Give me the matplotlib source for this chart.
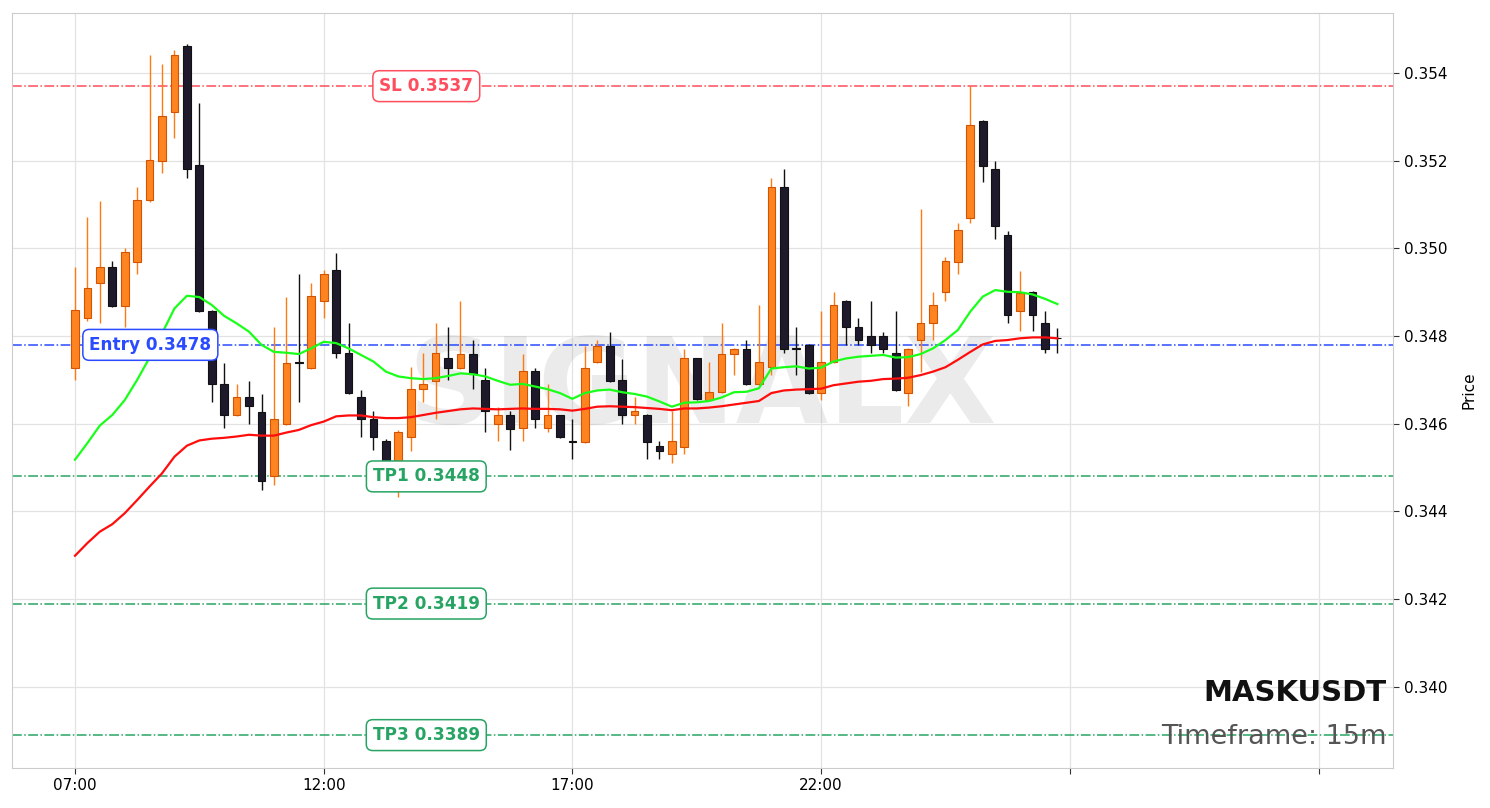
import numpy as np
import matplotlib as mpl
mpl.use('Agg')
import matplotlib.pyplot as plt
import matplotlib.transforms as mtrans

# 15m candles, 07:00 onwards
opens = [0.34728, 0.34841, 0.34921, 0.34958, 0.34869, 0.34970, 0.35110, 0.35200, 0.35311, 0.35462,
         0.35190, 0.34858, 0.34691, 0.34620, 0.34660, 0.34628, 0.34481, 0.34600, 0.34740, 0.34728,
         0.34879, 0.34951, 0.34761, 0.34661, 0.34611, 0.34561, 0.34510, 0.34570, 0.34679, 0.34698,
         0.34749, 0.34728, 0.34760, 0.34700, 0.34599, 0.34619, 0.34590, 0.34721, 0.34590, 0.34619,
         0.34560, 0.34559, 0.34740, 0.34778, 0.34700, 0.34619, 0.34620, 0.34550, 0.34531, 0.34548,
         0.34749, 0.34654, 0.34673, 0.34760, 0.34770, 0.34690, 0.34729, 0.35139, 0.34772, 0.34780,
         0.34670, 0.34740, 0.34880, 0.34820, 0.34800, 0.34800, 0.34762, 0.34670, 0.34791, 0.34829,
         0.34900, 0.34970, 0.35070, 0.35290, 0.35181, 0.35031, 0.34858, 0.34900, 0.34829, 0.34796]
highs = [0.34958, 0.35072, 0.35109, 0.34971, 0.35000, 0.35140, 0.35441, 0.35421, 0.35452, 0.35465,
         0.35332, 0.34860, 0.34739, 0.34691, 0.34698, 0.34668, 0.34821, 0.34890, 0.34942, 0.34921,
         0.34951, 0.34990, 0.34830, 0.34677, 0.34629, 0.34565, 0.34585, 0.34730, 0.34761, 0.34830,
         0.34821, 0.34879, 0.34790, 0.34728, 0.34639, 0.34629, 0.34760, 0.34728, 0.34690, 0.34621,
         0.34610, 0.34777, 0.34790, 0.34810, 0.34748, 0.34660, 0.34622, 0.34561, 0.34629, 0.34770,
         0.34750, 0.34740, 0.34829, 0.34772, 0.34790, 0.34871, 0.35160, 0.35180, 0.34821, 0.34782,
         0.34858, 0.34900, 0.34882, 0.34841, 0.34880, 0.34810, 0.34858, 0.34772, 0.35090, 0.34901,
         0.34980, 0.35058, 0.35370, 0.35292, 0.35200, 0.35040, 0.34949, 0.34902, 0.34858, 0.34818]
lows = [0.34700, 0.34835, 0.34830, 0.34866, 0.34821, 0.34942, 0.35105, 0.35172, 0.35252, 0.35161,
        0.34855, 0.34650, 0.34591, 0.34618, 0.34600, 0.34449, 0.34461, 0.34598, 0.34650, 0.34726,
        0.34841, 0.34750, 0.34668, 0.34571, 0.34540, 0.34449, 0.34432, 0.34539, 0.34650, 0.34611,
        0.34700, 0.34726, 0.34680, 0.34581, 0.34561, 0.34540, 0.34561, 0.34590, 0.34581, 0.34568,
        0.34520, 0.34557, 0.34738, 0.34696, 0.34600, 0.34600, 0.34520, 0.34520, 0.34510, 0.34531,
        0.34654, 0.34652, 0.34671, 0.34711, 0.34688, 0.34688, 0.34711, 0.34761, 0.34711, 0.34668,
        0.34654, 0.34738, 0.34780, 0.34780, 0.34761, 0.34761, 0.34675, 0.34641, 0.34719, 0.34791,
        0.34880, 0.34941, 0.35058, 0.35151, 0.35021, 0.34829, 0.34812, 0.34812, 0.34761, 0.34761]
closes = [0.34860, 0.34910, 0.34958, 0.34869, 0.34992, 0.35110, 0.35202, 0.35302, 0.35441, 0.35180,
          0.34858, 0.34691, 0.34619, 0.34660, 0.34641, 0.34470, 0.34610, 0.34739, 0.34738, 0.34892,
          0.34942, 0.34761, 0.34670, 0.34611, 0.34569, 0.34510, 0.34582, 0.34679, 0.34691, 0.34761,
          0.34728, 0.34760, 0.34713, 0.34629, 0.34619, 0.34588, 0.34721, 0.34610, 0.34619, 0.34570,
          0.34559, 0.34728, 0.34778, 0.34698, 0.34619, 0.34629, 0.34559, 0.34539, 0.34560, 0.34749,
          0.34656, 0.34673, 0.34760, 0.34770, 0.34690, 0.34740, 0.35139, 0.34770, 0.34771, 0.34670,
          0.34742, 0.34871, 0.34820, 0.34790, 0.34780, 0.34770, 0.34677, 0.34770, 0.34829, 0.34870,
          0.34971, 0.35041, 0.35281, 0.35189, 0.35050, 0.34848, 0.34898, 0.34848, 0.34770, 0.34795]
ema_fast = [0.34518, 0.34556, 0.34596, 0.34620, 0.34654, 0.34700, 0.34751, 0.34806, 0.34863, 0.34892,
            0.34889, 0.34871, 0.34846, 0.34829, 0.34810, 0.34780, 0.34764, 0.34762, 0.34759, 0.34772,
            0.34787, 0.34784, 0.34772, 0.34757, 0.34742, 0.34719, 0.34708, 0.34704, 0.34702, 0.34704,
            0.34709, 0.34715, 0.34713, 0.34708, 0.34698, 0.34689, 0.34691, 0.34685, 0.34679, 0.34670,
            0.34657, 0.34670, 0.34676, 0.34678, 0.34672, 0.34668, 0.34662, 0.34651, 0.34639, 0.34648,
            0.34649, 0.34652, 0.34660, 0.34672, 0.34673, 0.34681, 0.34726, 0.34729, 0.34731, 0.34726,
            0.34728, 0.34742, 0.34749, 0.34753, 0.34755, 0.34757, 0.34751, 0.34752, 0.34759, 0.34772,
            0.34791, 0.34814, 0.34856, 0.34890, 0.34905, 0.34901, 0.34900, 0.34895, 0.34885, 0.34873]
ema_slow = [0.34299, 0.34328, 0.34354, 0.34371, 0.34396, 0.34426, 0.34457, 0.34487, 0.34525, 0.34550,
            0.34562, 0.34566, 0.34568, 0.34571, 0.34575, 0.34573, 0.34573, 0.34580, 0.34586, 0.34597,
            0.34605, 0.34617, 0.34619, 0.34619, 0.34615, 0.34613, 0.34613, 0.34615, 0.34620, 0.34625,
            0.34629, 0.34633, 0.34635, 0.34634, 0.34633, 0.34634, 0.34635, 0.34634, 0.34634, 0.34633,
            0.34630, 0.34634, 0.34639, 0.34640, 0.34639, 0.34638, 0.34636, 0.34634, 0.34631, 0.34635,
            0.34635, 0.34637, 0.34640, 0.34644, 0.34648, 0.34652, 0.34670, 0.34676, 0.34678, 0.34679,
            0.34680, 0.34688, 0.34692, 0.34696, 0.34698, 0.34702, 0.34703, 0.34705, 0.34711, 0.34719,
            0.34729, 0.34746, 0.34764, 0.34781, 0.34789, 0.34791, 0.34795, 0.34797, 0.34797, 0.34795]

levels = [('SL', 0.3537, '#ff4d5e'), ('Entry', 0.3478, '#2a4bff'),
          ('TP1', 0.3448, '#27a463'), ('TP2', 0.3419, '#27a463'), ('TP3', 0.3389, '#27a463')]
tick_pos = [0, 20, 40, 60, 80, 100]
tick_lbl = ['07:00', '12:00', '17:00', '22:00', '', '']

o = np.array(opens); h = np.array(highs); l = np.array(lows); c = np.array(closes)
x = np.arange(len(o))
up = c > o

fig = plt.figure(figsize=(14.9, 8.08), dpi=100)
ax = fig.add_axes([0.008, 0.0495, 0.927, 0.9345])

UPC, UPE, DNC = '#fd8420', '#d35400', '#1e1a2c'
ax.vlines(x[up], l[up], h[up], color='#ff7a10', lw=1.0, zorder=3)
ax.vlines(x[~up], l[~up], h[~up], color='#111111', lw=1.0, zorder=3)
body = np.maximum(np.abs(c - o), 0.000012)
ax.bar(x[up], body[up], bottom=o[up], width=0.62, color=UPC, edgecolor=UPE, lw=0.8, zorder=4)
ax.bar(x[~up], body[~up], bottom=np.minimum(o, c)[~up], width=0.62, color=DNC,
       edgecolor='#111111', lw=0.8, zorder=4)

ax.plot(x, ema_fast, color='#1aff1a', lw=1.6, zorder=5)
ax.plot(x, ema_slow, color='#ff0d0d', lw=1.6, zorder=5)

blend = mtrans.blended_transform_factory(ax.transAxes, ax.transData)
for name, val, col in levels:
    ax.axhline(val, color=col, lw=1.1, ls='-.', zorder=2)
    bb = dict(boxstyle='round,pad=0.38', fc='white', ec=col, lw=1.1)
    if name == 'Entry':
        ax.text(0.056, val, f'{name} {val:.4f}', transform=blend, ha='left', va='center',
                fontsize=12.2, fontweight='bold', color=col, bbox=bb, zorder=7)
    else:
        ax.text(0.300, val, f'{name} {val:.4f}', transform=blend, ha='center', va='center',
                fontsize=12.2, fontweight='bold', color=col, bbox=bb, zorder=7)

ax.text(0.5, 0.5, 'SIGNALX', transform=ax.transAxes, ha='center', va='center',
        fontsize=86, fontweight='bold', color='#888888', alpha=0.16, zorder=1)
ax.text(0.995, 0.099, 'MASKUSDT', transform=ax.transAxes, ha='right', va='center',
        fontsize=21, fontweight='bold', color='#111111', zorder=8)
ax.text(0.995, 0.041, 'Timeframe: 15m', transform=ax.transAxes, ha='right', va='center',
        fontsize=19.5, color='#555555', zorder=8)

ax.set_xlim(-5.07, 106.0)
ax.set_ylim(0.33815, 0.35537)
ax.set_xticks(tick_pos)
ax.set_xticklabels(tick_lbl)
ax.set_yticks(np.arange(0.340, 0.3541, 0.002))
ax.yaxis.set_major_formatter(mpl.ticker.FormatStrFormatter('%.3f'))
ax.yaxis.tick_right()
ax.yaxis.set_label_position('right')
ax.set_ylabel('Price', fontsize=11, labelpad=10)
ax.tick_params(labelsize=11, length=4, color='#333333')
ax.grid(color='#e3e3e3', lw=0.9, zorder=0)
ax.set_axisbelow(True)
for s in ax.spines.values():
    s.set_color('#cccccc')

fig.savefig('out.png', dpi=100)
